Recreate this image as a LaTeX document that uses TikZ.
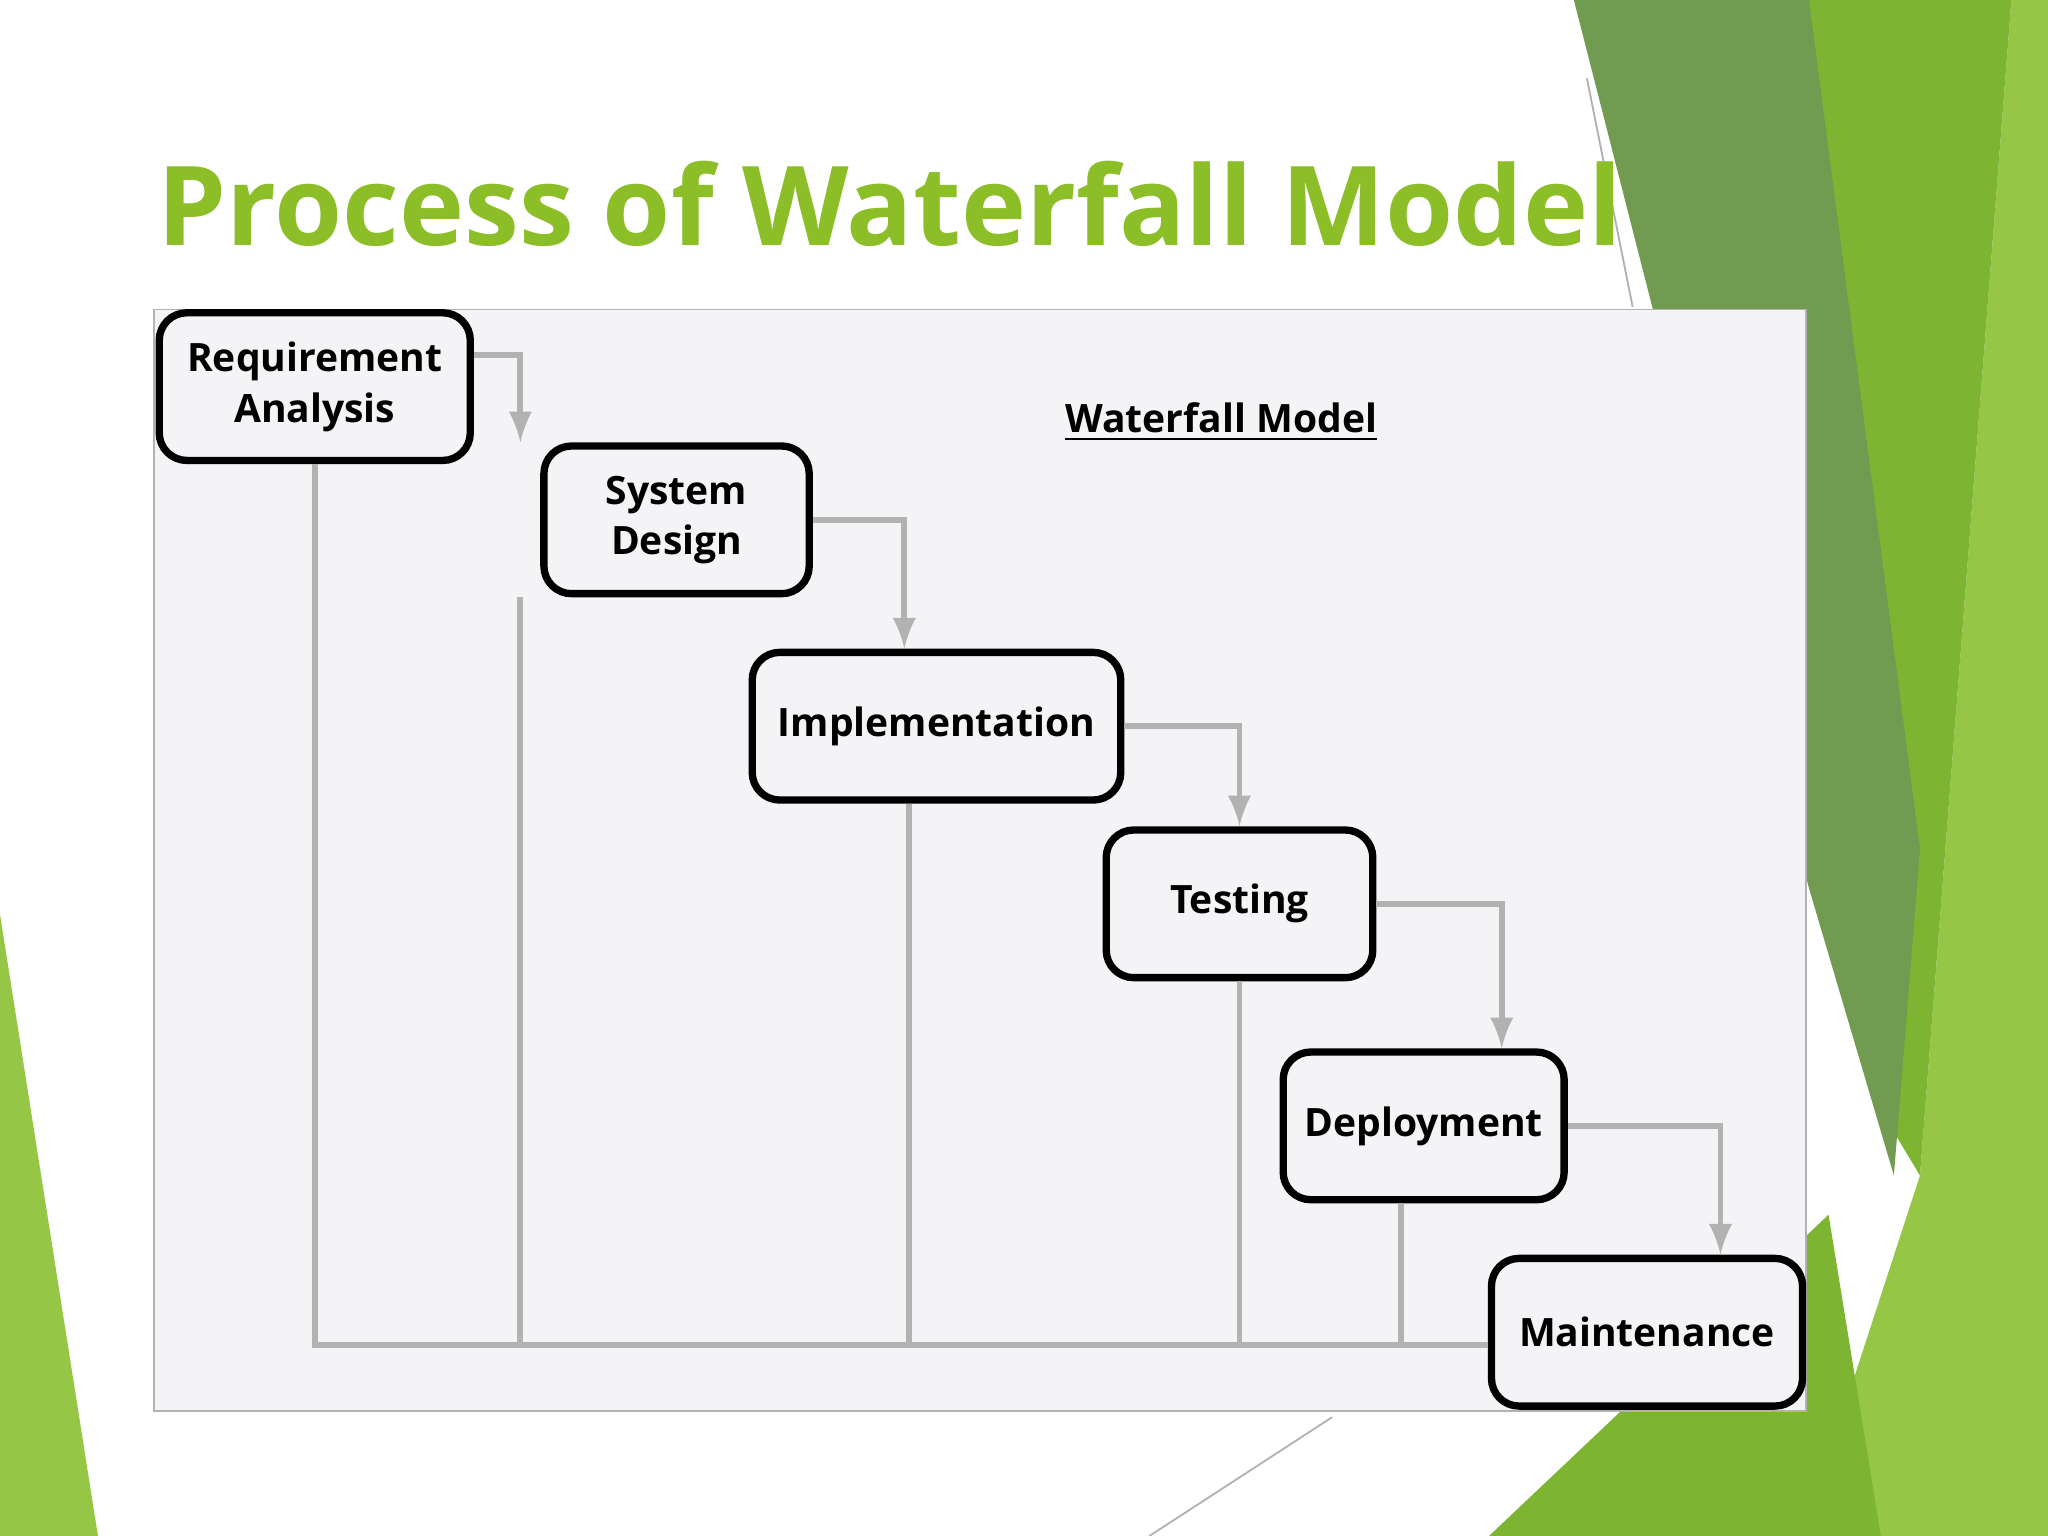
\documentclass[tikz,border=0pt]{standalone}
\usepackage{fontspec}
\setmainfont{Open Sans}
\usetikzlibrary{positioning}
\definecolor{TitleGreen}{RGB}{140,190,40}
\definecolor{DarkLeaf}{RGB}{112,155,80}
\definecolor{MidLeaf}{RGB}{125,180,50}
\definecolor{LightLeaf}{RGB}{150,198,70}
\definecolor{PanelGray}{RGB}{244,244,246}
\tikzset{
  stepBlock/.style={draw,line width=1.6pt,rounded corners=6pt,fill=PanelGray,align=center,
    minimum height=1.13cm,inner sep=1pt,font=\bfseries\fontsize{8.5}{11}\selectfont},
  flowArrow/.style={draw=gray!60,line width=1.3pt,-latex},
  backLine/.style={draw=gray!60,line width=1.3pt}
}
\begin{document}
\begin{tikzpicture}[x=0.01cm,y=-0.01cm]
  \useasboundingbox (0,0) rectangle (1568,1176);
  % background leaves
  \fill[LightLeaf] (1540,0) -- (1568,0) -- (1568,1176) -- (1380,1176) -- (1470,900) -- cycle;
  \fill[MidLeaf] (1385,0) -- (1540,0) -- (1470,900) -- (1440,850) -- cycle;
  \fill[DarkLeaf] (1205,0) -- (1385,0) -- (1470,650) -- (1450,900) -- (1385,680) -- (1265,235) -- cycle;
  \fill[MidLeaf] (1140,1176) -- (1400,930) -- (1440,1176) -- cycle;
  \fill[LightLeaf] (0,700) -- (75,1176) -- (0,1176) -- cycle;
  \draw[gray!60,thin] (1215,60) -- (1250,235);
  \draw[gray!60,thin] (880,1176) -- (1020,1085);
  % title
  \node[anchor=base west,inner sep=0pt,text=TitleGreen,font=\bfseries\fontsize{24}{28}\selectfont] (title) at (120,188) {Process of Waterfall Model};
  % panel
  \draw[gray!60,fill=PanelGray] (118,237) rectangle (1383,1080);
  \node[font=\bfseries\fontsize{8.5}{11}\selectfont] (heading) at (935,323) {\underline{Waterfall\ Model}};
  % steps
  \node[stepBlock,minimum width=2.38cm] (req) at (241,296) {Requirement\\Analysis};
  \node[stepBlock,minimum width=2.03cm] (design) at (518,398) {System\\Design};
  \node[stepBlock,minimum width=2.82cm] (impl) at (717,556) {Implementation};
  \node[stepBlock,minimum width=2.04cm] (test) at (949,692) {Testing};
  \node[stepBlock,minimum width=2.15cm] (deploy) at (1090,862) {Deployment};
  \node[stepBlock,minimum width=2.38cm] (maint) at (1261,1020) {Maintenance};
  % forward flow
  \draw[flowArrow] (req.east |- 0,272) -| ([xshift=-34]design.north);
  \draw[flowArrow] (design.east) -| ([xshift=-7]impl.north);
  \draw[flowArrow] (impl.east) -| (test.north);
  \draw[flowArrow] (test.east) -| ([xshift=17]deploy.north);
  \draw[flowArrow] (deploy.east) -| ([xshift=16]maint.north);
  % back lines
  \coordinate (base) at (0,1030);
  \draw[backLine] (req.south) |- (maint.west |- base);
  \draw[backLine] ([xshift=-34]design.south) -- ([xshift=-34]design.south |- base);
  \draw[backLine] ([xshift=-6]impl.south) -- ([xshift=-6]impl.south |- base);
  \draw[backLine] (test.south) -- (test.south |- base);
  \draw[backLine] ([xshift=-5]deploy.south) -- ([xshift=-5]deploy.south |- base);
\end{tikzpicture}
\end{document}
